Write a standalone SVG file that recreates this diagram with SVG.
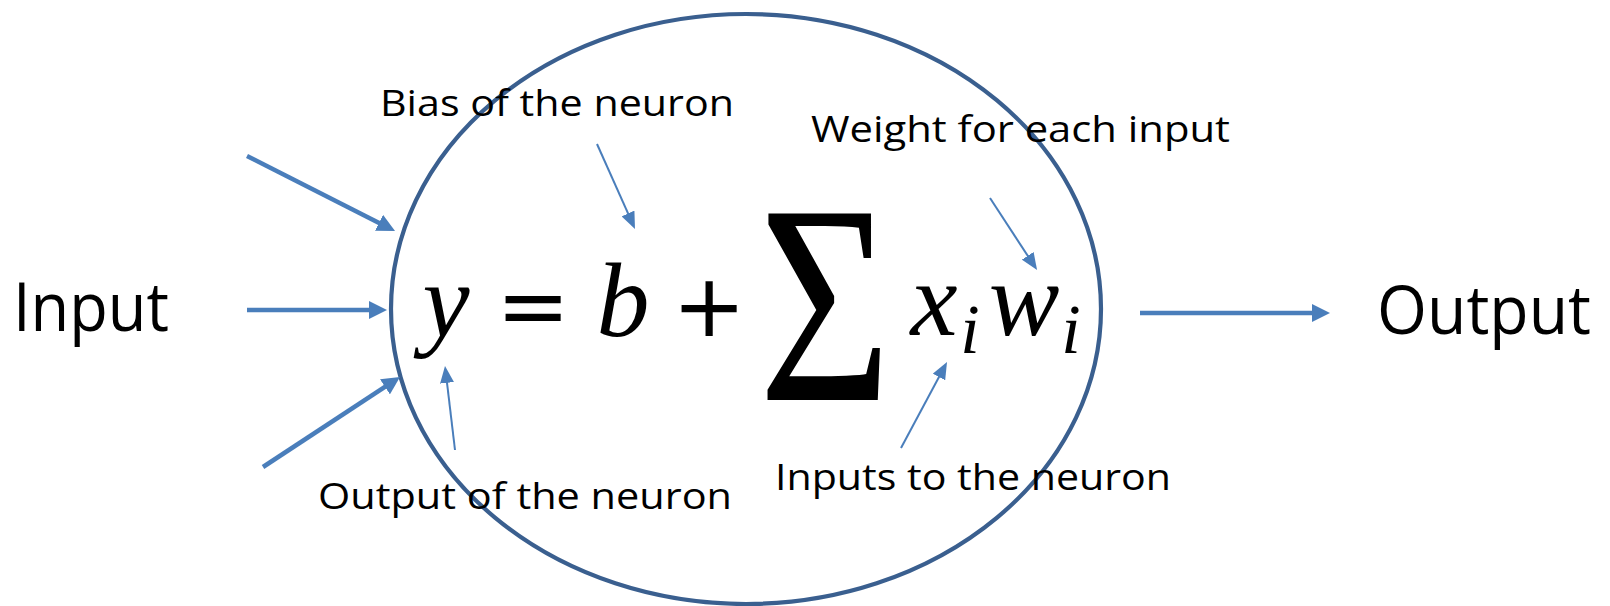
<svg xmlns="http://www.w3.org/2000/svg" width="1610" height="606" viewBox="0 0 1610 606">
<style>
.big{font-family:'Open Sans','Liberation Sans',sans-serif;font-size:67px;fill:#000}
.lbl{font-family:'Open Sans','Liberation Sans',sans-serif;font-size:37px;fill:#000}
.thick{stroke:#4A7EBB;stroke-width:4.5;fill:none;marker-end:url(#ah)}
.thin{stroke:#4A7EBB;stroke-width:2;fill:none;marker-end:url(#ahs)}
</style>
<defs>
<marker id="ah" markerWidth="4" markerHeight="4" refX="2" refY="2" orient="auto" markerUnits="strokeWidth"><path d="M0,0 L4,2 L0,4 z" fill="#4A7EBB"/></marker>
<marker id="ahs" markerWidth="8.5" markerHeight="7" refX="4.25" refY="3.5" orient="auto" markerUnits="strokeWidth"><path d="M0,0 L8.5,3.5 L0,7 z" fill="#4A7EBB"/></marker>
</defs>
<rect width="1610" height="606" fill="#fff"/>
<g id="neuron">
<ellipse cx="746" cy="309" rx="355" ry="295" fill="none" stroke="#3A5F8F" stroke-width="4.2"/>
</g>
<g id="formula" fill="#000" text-anchor="middle">
<g font-family="Liberation Serif" font-style="italic" font-size="106">
<text x="446" y="336">y</text>
<text x="623" y="336">b</text>
<text x="934" y="335">x</text>
<text x="1024" y="335">w</text>
</g>
<g font-family="Liberation Serif" font-style="italic" font-size="70">
<text x="970" y="353">i</text>
<text x="1071" y="353">i</text>
</g>
<g font-family="DejaVu Sans" font-size="88">
<text x="533" y="336">=</text>
<text x="709" y="336">+</text>
</g>
<text font-family="Liberation Serif" font-size="285" transform="translate(825,400) scale(0.8,1)">Σ</text>
</g>
<g id="input"><text class="big" x="13" y="331" textLength="156" lengthAdjust="spacingAndGlyphs">Input</text></g>
<g id="output"><text class="big" x="1377" y="334" textLength="214" lengthAdjust="spacingAndGlyphs">Output</text></g>
<g id="label-bias"><text class="lbl" x="380" y="116" textLength="354" lengthAdjust="spacingAndGlyphs">Bias of the neuron</text></g>
<g id="label-weight"><text class="lbl" x="811" y="142" textLength="419" lengthAdjust="spacingAndGlyphs">Weight for each input</text></g>
<g id="label-output"><text class="lbl" x="318" y="509" textLength="414" lengthAdjust="spacingAndGlyphs">Output of the neuron</text></g>
<g id="label-inputs"><text class="lbl" x="775" y="490" textLength="396" lengthAdjust="spacingAndGlyphs">Inputs to the neuron</text></g>
<g id="connectors">
<line class="thick" x1="247" y1="156" x2="387" y2="226.9"/>
<line class="thick" x1="247" y1="310" x2="378" y2="310"/>
<line class="thick" x1="263" y1="467" x2="392.5" y2="381.9"/>
<line class="thick" x1="1140" y1="313" x2="1321" y2="313"/>
<line class="thin" x1="597" y1="144" x2="631.5" y2="221.2"/>
<line class="thin" x1="990" y1="198" x2="1032.4" y2="262.9"/>
<line class="thin" x1="901" y1="448" x2="943" y2="369.5"/>
<line class="thin" x1="455" y1="450" x2="446" y2="374.4"/>
</g>
</svg>
